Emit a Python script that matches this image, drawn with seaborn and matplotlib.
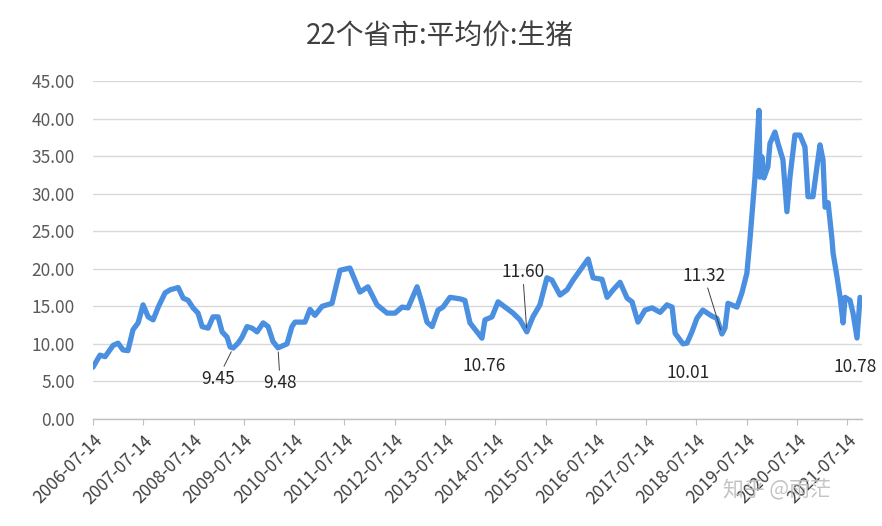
import matplotlib
matplotlib.use("Agg")
import matplotlib.pyplot as plt
import seaborn as sns
import pandas as pd

# ---------------- data ----------------
dates = [
    "2006-07-14", "2006-09-03", "2006-10-10", "2006-12-07", "2007-01-12", "2007-02-17",
    "2007-03-25", "2007-05-01", "2007-06-07", "2007-07-13", "2007-08-19", "2007-09-24",
    "2007-10-31", "2007-12-20", "2008-01-25", "2008-03-24", "2008-04-29", "2008-06-04",
    "2008-07-10", "2008-08-15", "2008-09-14", "2008-10-27", "2008-12-02", "2009-01-08",
    "2009-02-06", "2009-03-14", "2009-04-05", "2009-04-27", "2009-06-02", "2009-07-01",
    "2009-08-06", "2009-09-11", "2009-10-18", "2009-12-01", "2010-01-06", "2010-02-11",
    "2010-03-19", "2010-05-23", "2010-06-28", "2010-07-20", "2010-10-01", "2010-11-06",
    "2010-12-12", "2011-02-02", "2011-04-15", "2011-06-12", "2011-08-23", "2011-11-04",
    "2012-01-01", "2012-03-07", "2012-05-19", "2012-07-16", "2012-09-05", "2012-10-18",
    "2012-12-23", "2013-01-28", "2013-03-05", "2013-04-11", "2013-05-24", "2013-06-29",
    "2013-08-19", "2013-10-30", "2013-12-05", "2014-01-11", "2014-03-03", "2014-04-08",
    "2014-04-30", "2014-06-20", "2014-08-03", "2014-09-23", "2014-11-20", "2015-01-09",
    "2015-02-28", "2015-04-13", "2015-06-03", "2015-07-24", "2015-08-29", "2015-10-27",
    "2015-12-17", "2016-01-30", "2016-03-21", "2016-05-18", "2016-06-23", "2016-08-27",
    "2016-10-03", "2016-11-16", "2017-01-05", "2017-02-25", "2017-04-02", "2017-05-15",
    "2017-07-05", "2017-08-25", "2017-10-23", "2017-12-12", "2018-01-18", "2018-02-09",
    "2018-04-07", "2018-05-06", "2018-06-11", "2018-07-17", "2018-08-29", "2018-11-03",
    "2018-12-09", "2019-01-15", "2019-02-06", "2019-02-28", "2019-05-04", "2019-06-09",
    "2019-07-15", "2019-08-06", "2019-08-28", "2019-09-12", "2019-10-11", "2019-10-18",
    "2019-11-01", "2019-11-16", "2019-12-15", "2019-12-30", "2020-02-04", "2020-02-26",
    "2020-04-02", "2020-05-01", "2020-05-23", "2020-06-28", "2020-08-04", "2020-09-09",
    "2020-10-01", "2020-11-06", "2020-12-05", "2020-12-27", "2021-01-18", "2021-02-02",
    "2021-02-24", "2021-03-25", "2021-04-01", "2021-04-30", "2021-05-22", "2021-06-13",
    "2021-06-27", "2021-08-02", "2021-08-24", "2021-09-22", "2021-10-14",
]
prices = [
    6.9, 8.5, 8.3, 9.8, 10.1, 9.2,
    9.1, 11.9, 12.8, 15.2, 13.6, 13.2,
    14.9, 16.8, 17.2, 17.5, 16.1, 15.8,
    14.8, 14.1, 12.3, 12.1, 13.6, 13.6,
    11.6, 10.9, 9.6, 9.45, 10.1, 10.9,
    12.3, 12.1, 11.6, 12.8, 12.3, 10.3,
    9.48, 10.0, 12.3, 12.9, 12.9, 14.6,
    13.8, 15.0, 15.4, 19.8, 20.1, 16.9,
    17.6, 15.2, 14.1, 14.1, 14.9, 14.8,
    17.6, 15.4, 12.9, 12.3, 14.5, 14.9,
    16.2, 16.0, 15.8, 12.8, 11.6, 10.76,
    13.2, 13.6, 15.6, 14.9, 14.1, 13.2,
    11.6, 13.6, 15.2, 18.8, 18.5, 16.5,
    17.2, 18.5, 19.8, 21.3, 18.8, 18.6,
    16.2, 17.2, 18.2, 16.1, 15.6, 12.9,
    14.5, 14.8, 14.2, 15.2, 14.9, 11.4,
    10.01, 10.1, 11.6, 13.4, 14.5, 13.7,
    13.4, 11.32, 12.1, 15.4, 14.9, 16.8,
    19.4, 23.8, 28.8, 32.2, 41.1, 32.2,
    34.9, 32.1, 33.6, 36.7, 38.2, 36.7,
    34.5, 27.6, 32.2, 37.8, 37.8, 36.2,
    29.6, 29.6, 33.6, 36.5, 34.5, 28.2,
    28.8, 23.8, 22.1, 18.9, 16.2, 12.8,
    16.2, 15.8, 14.1, 10.78, 16.2,
]
tick_years = list(range(2006, 2022))
tick_labels = [f"{y}-07-14" for y in tick_years]
y_ticks = [0, 5, 10, 15, 20, 25, 30, 35, 40, 45]

annot_texts = ["9.45", "9.48", "10.76", "11.60", "10.01", "11.32", "10.78"]
annot_dates = ["2009-04-27", "2010-03-19", "2014-04-08", "2015-02-28",
               "2018-04-07", "2019-01-15", "2021-09-22"]
annot_values = [9.45, 9.48, 10.76, 11.60, 10.01, 11.32, 10.78]

title = "22个省市:平均价:生猪"
watermark = "知乎 @雨茫"

# ---------------- styling ----------------
sns.set_theme(style="white")
plt.rcParams["font.family"] = ["Noto Sans CJK SC", "DejaVu Sans"]

df = pd.DataFrame({"date": pd.to_datetime(dates), "price": prices})

fig = plt.figure(figsize=(8.82, 5.26), dpi=100)
fig.patch.set_facecolor("white")
ax = fig.add_axes([0.1054, 0.2034, 0.8719, 0.6426])

sns.lineplot(data=df, x="date", y="price", ax=ax, color="#4A8FE0",
             linewidth=3.8, solid_joinstyle="round", solid_capstyle="round", zorder=3)

ax.set_ylim(0, 45)
ax.set_yticks(y_ticks)
ax.set_yticklabels([f"{v:.2f}" for v in y_ticks])
ax.set_xlim(pd.Timestamp("2006-07-14"), pd.Timestamp("2021-10-28"))
ax.set_xticks([pd.Timestamp(f"{y}-07-14") for y in tick_years])
ax.set_xticklabels(tick_labels, rotation=45, ha="right", rotation_mode="anchor")

ax.grid(axis="y", color="#D9D9D9", linewidth=1.0, zorder=0)
ax.grid(axis="x", visible=False)
for s in ["left", "right", "top"]:
    ax.spines[s].set_visible(False)
ax.spines["bottom"].set_color("#BFBFBF")
ax.spines["bottom"].set_linewidth(1.0)
ax.tick_params(axis="x", which="major", bottom=True, length=4, width=0.8,
               color="#BFBFBF", labelsize=12.5, labelcolor="#404040", pad=5)
ax.tick_params(axis="y", left=False, labelsize=12.5, labelcolor="#595959", pad=7)
for lab in ax.get_xticklabels() + ax.get_yticklabels():
    lab.set_fontweight("light")
ax.set_xlabel("")
ax.set_ylabel("")

# annotations (offsets in points)
offsets = [(-11, -22), (1.5, -25), (1.5, -20), (-3, 43), (3.5, -21), (-13, 42), (-1.5, -21)]
leaders = [True, True, False, True, False, True, False]
for txt, d, v, off, lead in zip(annot_texts, annot_dates, annot_values, offsets, leaders):
    kw = {}
    if lead:
        kw["arrowprops"] = dict(arrowstyle="-", color="#404040", lw=0.7,
                                shrinkA=0, shrinkB=3)
    ax.annotate(txt, xy=(pd.Timestamp(d), v), xytext=off, textcoords="offset points",
                ha="center", va="center", fontsize=12.5, color="#262626",
                fontweight="light", annotation_clip=False, zorder=5, **kw)

fig.text(0.499, 0.932, title, ha="center", va="center", fontsize=20,
         color="#404040", fontweight="light")
fig.text(0.82, 0.068, watermark, ha="left", va="center", fontsize=15,
         color="#BDBDBD", alpha=0.9, zorder=10)

fig.savefig("out.png", dpi=100, facecolor="white")
